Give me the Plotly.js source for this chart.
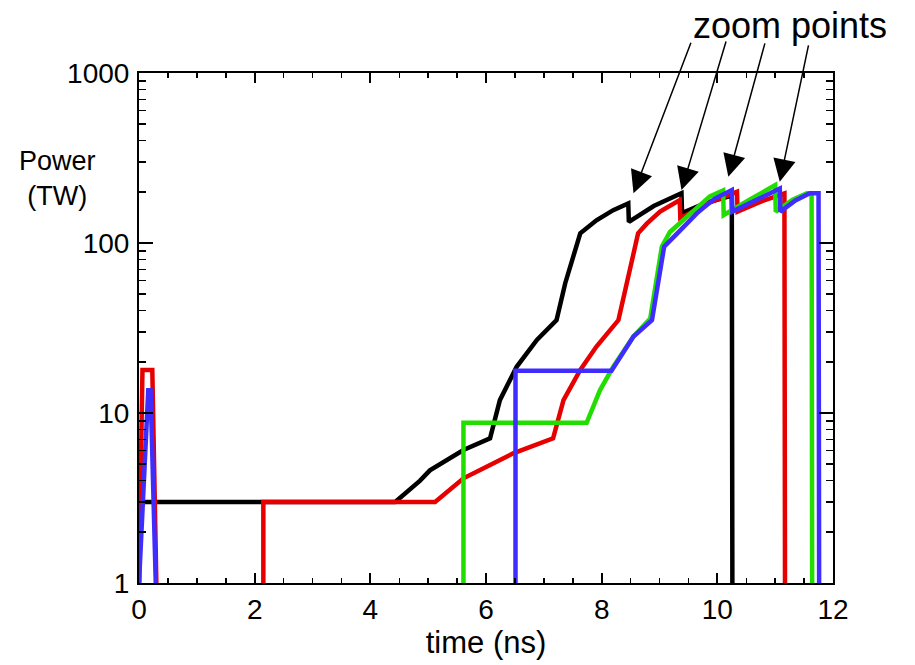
<!DOCTYPE html>
<html>
<head>
<meta charset="utf-8">
<script src="https://cdn.plot.ly/plotly-3.0.1.min.js"></script>
<style>
  html, body { margin: 0; padding: 0; background: #ffffff; }
  #chart { width: 915px; height: 665px; }
</style>
</head>
<body>
<div id="chart"></div>
<script>
// Laser pulse power histories (TW) versus time (ns), four pulse shapes.
const blackT = [0, 0, 4.43, 4.86, 5.03, 5.61, 6.07, 6.24, 6.53, 6.88, 7.22, 7.37, 7.63, 7.91, 8.20, 8.46, 8.47, 8.90, 9.38, 9.39, 9.80, 10.25, 10.26];
const blackP = [1, 3, 3, 4.0, 4.6, 6.06, 7.1, 11.9, 18.7, 26.9, 35.2, 58, 114, 136, 156, 171, 133, 165, 196, 150, 172, 190, 1];

const redT = [0, 0.06, 0.23, 0.30, null, 2.15, 2.15, 5.12, 5.61, 6.01, 6.47, 7.16, 7.34, 7.63, 7.91, 8.29, 8.43, 8.63, 8.78, 9.01, 9.35, 9.36, 9.85, 10.34, 10.35, 10.75, 11.16, 11.17];
const redP = [1, 17.9, 17.9, 1, null, 1, 3, 3, 4.13, 4.83, 5.79, 7.1, 11.9, 17.9, 24.6, 35.2, 58, 114, 130, 153, 179, 140, 172, 200, 153, 175, 196, 1];

const greenT = [5.61, 5.61, 7.74, 7.97, 8.20, 8.55, 8.84, 8.95, 9.04, 9.18, 9.59, 9.87, 10.10, 10.11, 10.55, 11.00, 11.01, 11.30, 11.55, 11.63, 11.64];
const greenP = [1, 8.76, 8.76, 13.6, 18.7, 28.2, 36, 63, 95, 116, 156, 188, 204, 146, 179, 219, 153, 180, 196, 196, 1];

const blueT = [0, 0.16, 0.20, 0.29, null, 6.51, 6.51, 8.17, 8.55, 8.87, 8.99, 9.08, 9.24, 9.65, 9.95, 10.25, 10.26, 10.67, 11.08, 11.09, 11.35, 11.60, 11.75, 11.76];
const blueP = [1, 13.6, 13.6, 1, null, 1, 17.7, 17.7, 28.2, 35.2, 63, 95, 108, 150, 182, 205, 153, 178, 209, 153, 178, 196, 196, 1];

// Zoom points marked by arrows (time in ns, power in TW at the arrow tip)
const zoomT = [8.55, 9.38, 10.19, 11.08];
const zoomP = [196, 205, 245, 229];
const arrowDX = [58, 45, 37, 29];
const arrowDY = [-152, -150, -135, -138];

const xTickVals = [0, 2, 4, 6, 8, 10, 12];
const yTickVals = [1, 10, 100, 1000];
const yTickText = ['1', '10', '100', '1000'];

const FONT = 'Liberation Sans, Arial, Helvetica, sans-serif';
const LW = 4.5;

function line(t, p, color) {
  return {
    x: t, y: p, type: 'scatter', mode: 'lines',
    line: { color: color, width: LW },
    connectgaps: false, hoverinfo: 'skip', showlegend: false
  };
}

const traces = [
  line(blackT, blackP, '#000000'),
  line(redT, redP, '#e60000'),
  line(greenT, greenP, '#22dd00'),
  line(blueT, blueP, '#3f2dff')
];

const annotations = [
  {
    xref: 'paper', yref: 'paper', x: -0.117, y: 0.793,
    xanchor: 'center', yanchor: 'middle', align: 'center',
    text: 'Power<br>(TW)', showarrow: false,
    font: { family: FONT, size: 27, color: '#000' }
  },
  {
    xref: 'paper', yref: 'paper', x: 0.938, y: 1.094,
    xanchor: 'center', yanchor: 'middle',
    text: 'zoom points', showarrow: false,
    font: { family: FONT, size: 36, color: '#000' }
  }
];
zoomT.forEach(function (t, i) {
  annotations.push({
    x: t, y: Math.log10(zoomP[i]), xref: 'x', yref: 'y',
    ax: arrowDX[i], ay: arrowDY[i], text: '',
    showarrow: true, arrowhead: 2, arrowsize: 3, arrowwidth: 1.5,
    arrowcolor: '#000'
  });
});

const layout = {
  width: 915, height: 665,
  margin: { l: 139, r: 82, t: 73, b: 82 },
  paper_bgcolor: '#ffffff', plot_bgcolor: '#ffffff',
  font: { family: FONT, color: '#000' },
  showlegend: false,
  xaxis: {
    range: [0, 12], tickmode: 'array', tickvals: xTickVals,
    ticks: 'inside', ticklen: 10, tickwidth: 2, tickcolor: '#000',
    minor: { ticks: 'inside', dtick: 0.5, ticklen: 5, tickwidth: 1.5, tickcolor: '#000', showgrid: false },
    showline: true, linewidth: 2, linecolor: '#000', mirror: 'ticks',
    showgrid: false, zeroline: false,
    tickfont: { family: FONT, size: 28 },
    title: { text: 'time (ns)', font: { family: FONT, size: 31 }, standoff: 6 }
  },
  yaxis: {
    type: 'log', range: [0, 3], tickmode: 'array', tickvals: yTickVals, ticktext: yTickText,
    ticks: 'inside', ticklen: 14, tickwidth: 2, tickcolor: '#000',
    minor: { ticks: 'inside', dtick: 'D1', ticklen: 7, tickwidth: 1.5, tickcolor: '#000', showgrid: false },
    showline: true, linewidth: 2, linecolor: '#000', mirror: 'ticks',
    showgrid: false, zeroline: false, ticklabelstandoff: 2,
    tickfont: { family: FONT, size: 28 }
  },
  annotations: annotations
};

Plotly.newPlot('chart', traces, layout, { staticPlot: true, displayModeBar: false });
</script>
</body>
</html>
